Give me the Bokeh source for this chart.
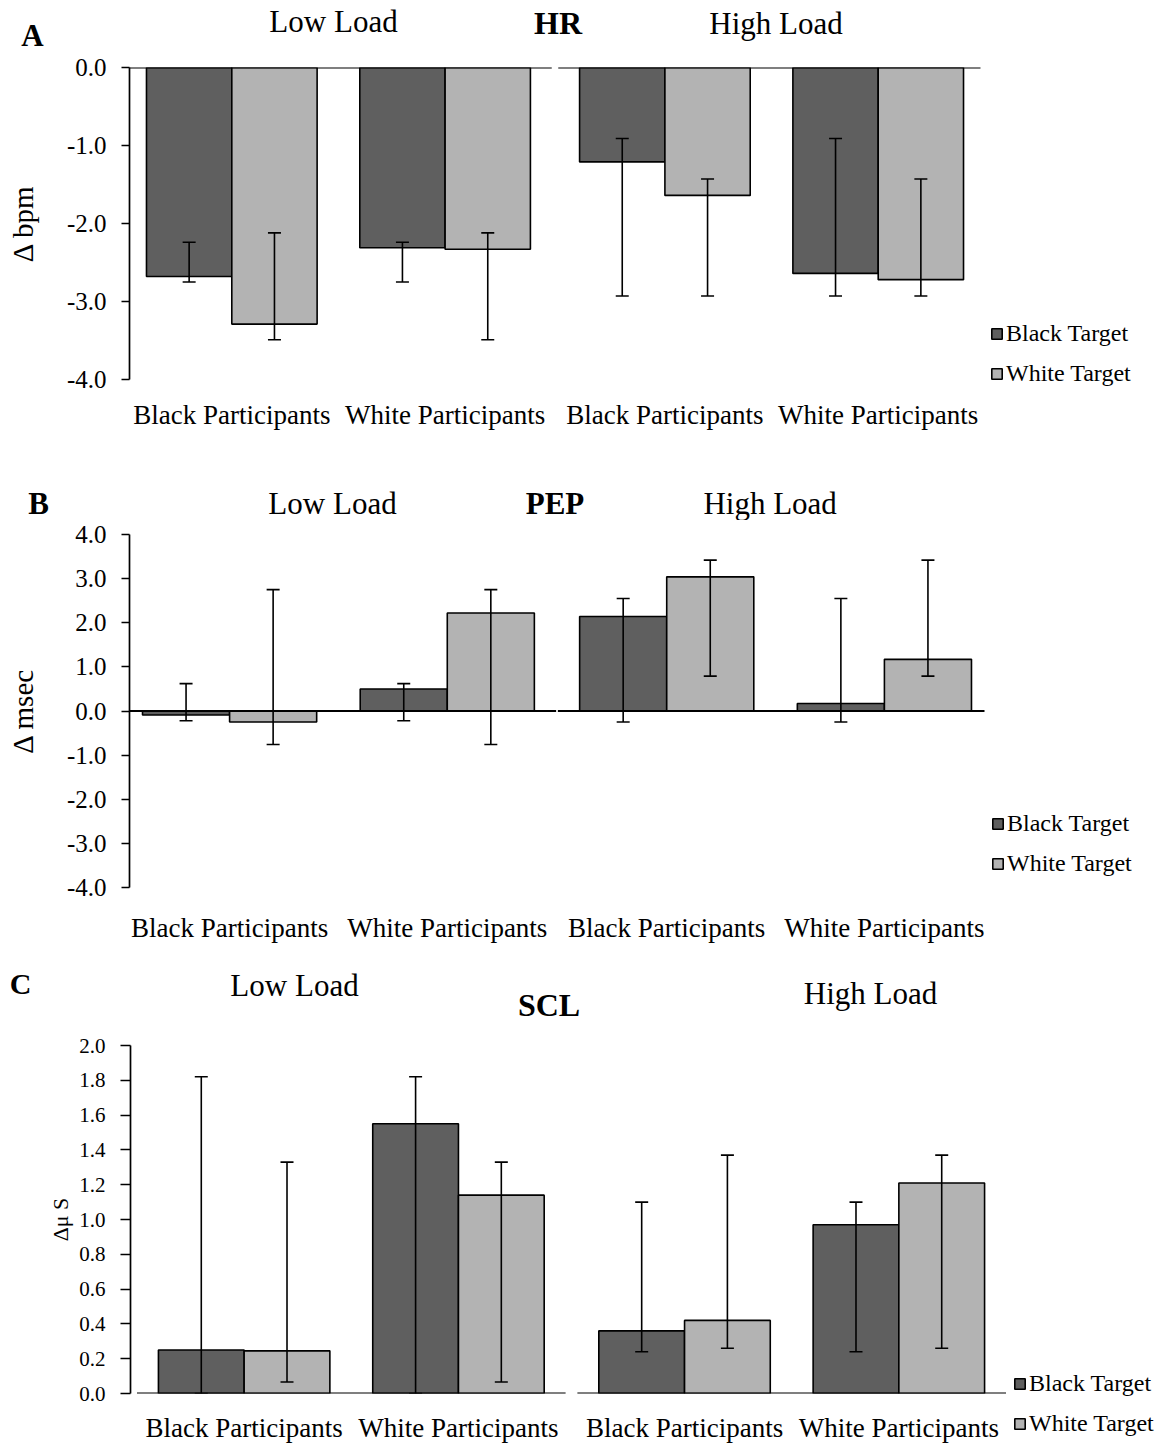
from bokeh.plotting import figure
from bokeh.models import (ColumnDataSource, FactorRange, Range1d, FixedTicker,
                          PrintfTickFormatter, Whisker, TeeHead, Legend, LegendItem, Label)
from bokeh.transform import dodge
from bokeh.layouts import column, row
from bokeh.embed import file_html
from bokeh.resources import INLINE

# ---------------- data ----------------
LOADS = ["Low Load", "High Load"]
PARTICIPANTS = ["Black Participants", "White Participants"]
TARGETS = ["Black Target", "White Target"]
# order of every series: Low-Black P, Low-White P, High-Black P, High-White P

hr_black_target = [-2.68, -2.31, -1.21, -2.64]
hr_white_target = [-3.29, -2.33, -1.64, -2.72]
hr_black_target_hi = [-2.24, -2.24, -0.91, -0.91]
hr_black_target_lo = [-2.75, -2.75, -2.93, -2.93]
hr_white_target_hi = [-2.12, -2.12, -1.43, -1.43]
hr_white_target_lo = [-3.49, -3.49, -2.93, -2.93]
hr_ticks = [-4.0, -3.0, -2.0, -1.0, 0.0]

pep_black_target = [-0.09, 0.50, 2.14, 0.17]
pep_white_target = [-0.25, 2.22, 3.04, 1.17]
pep_black_target_hi = [0.62, 0.62, 2.55, 2.55]
pep_black_target_lo = [-0.22, -0.22, -0.25, -0.25]
pep_white_target_hi = [2.75, 2.75, 3.42, 3.42]
pep_white_target_lo = [-0.76, -0.76, 0.79, 0.79]
pep_ticks = [-4.0, -3.0, -2.0, -1.0, 0.0, 1.0, 2.0, 3.0, 4.0]

scl_black_target = [0.25, 1.55, 0.36, 0.97]
scl_white_target = [0.245, 1.14, 0.42, 1.21]
scl_black_target_hi = [1.82, 1.82, 1.10, 1.10]
scl_black_target_lo = [0.0, 0.0, 0.24, 0.24]
scl_white_target_hi = [1.33, 1.33, 1.37, 1.37]
scl_white_target_lo = [0.066, 0.066, 0.26, 0.26]
scl_ticks = [0.0, 0.2, 0.4, 0.6, 0.8, 1.0, 1.2, 1.4, 1.6, 1.8, 2.0]

# ---------------- style / layout ----------------
FONT = "Liberation Serif"
DARK = "#5f5f5f"
LIGHT = "#b3b3b3"
PAGE_W = 1158

panels = [
    dict(ylabel="\u0394 bpm",
         bt=hr_black_target, wt=hr_white_target,
         bt_hi=hr_black_target_hi, bt_lo=hr_black_target_lo,
         wt_hi=hr_white_target_hi, wt_lo=hr_white_target_lo,
         ticks=hr_ticks, yr=(-4.0, 0.0),
         strip_top=0, strip_h=52, chart_h=403, chart_w=988,
         mb_l=129, mb_r=8, mb_t=15, mb_b=76,
         gpad=0.0305, rpad=-0.0204,
         tick_size="25px", tick_out=8, tick_standoff=15,
         ylabel_size="29px", ylabel_standoff=25, x_standoff=14,
         texts=[("A", 32, 45, 31, "bold"), ("Low Load", 333, 31.3, 31, "normal"),
                ("HR", 557.5, 33, 32, "bold"), ("High Load", 775.5, 33.3, 31, "normal")],
         legend_x=990, legend_bottom=386.5),
    dict(ylabel="\u0394 msec",
         bt=pep_black_target, wt=pep_white_target,
         bt_hi=pep_black_target_hi, bt_lo=pep_black_target_lo,
         wt_hi=pep_white_target_hi, wt_lo=pep_white_target_lo,
         ticks=pep_ticks, yr=(-4.0, 4.0),
         strip_top=455, strip_h=65, chart_h=425, chart_w=990,
         mb_l=129, mb_r=6, mb_t=14, mb_b=55,
         gpad=0.008, rpad=-0.0402,
         tick_size="25px", tick_out=8, tick_standoff=15,
         ylabel_size="29px", ylabel_standoff=25, x_standoff=19,
         texts=[("B", 38, 513.3, 31, "bold"), ("Low Load", 332, 513.3, 31, "normal"),
                ("PEP", 554.5, 513.3, 31, "bold"), ("High Load", 769.6, 513.3, 31, "normal")],
         legend_x=991, legend_bottom=876.5),
    dict(ylabel="\u0394\u03bc S",
         bt=scl_black_target, wt=scl_white_target,
         bt_hi=scl_black_target_hi, bt_lo=scl_black_target_lo,
         wt_hi=scl_white_target_hi, wt_lo=scl_white_target_lo,
         ticks=scl_ticks, yr=(0.0, 2.0),
         strip_top=945, strip_h=80, chart_h=420, chart_w=1012,
         mb_l=130, mb_r=0, mb_t=20, mb_b=47,
         gpad=0.055, rpad=0.0303,
         tick_size="21px", tick_out=10, tick_standoff=15,
         ylabel_size="22px", ylabel_standoff=3, x_standoff=13,
         texts=[("C", 20, 993.3, 30, "bold"), ("Low Load", 294, 995, 31, "normal"),
                ("SCL", 548.5, 1015, 32, "bold"), ("High Load", 870, 1003.3, 31, "normal")],
         legend_x=1013, legend_bottom=1436.5),
]


def plain(fig):
    fig.frame_align = False
    fig.outline_line_color = None
    fig.background_fill_color = "white"
    fig.border_fill_color = "white"
    return fig


def title_strip(c):
    top = c["strip_top"]
    bottom = top + c["strip_h"]
    s = plain(figure(width=PAGE_W, height=c["strip_h"], x_range=Range1d(0, PAGE_W),
                     y_range=Range1d(bottom, top), x_axis_type=None, y_axis_type=None,
                     output_backend="svg", toolbar_location=None, min_border=0, title=None))
    s.grid.visible = False
    for text, px, py, size, style in c["texts"]:
        # vertical centre of the text box sits ~0.337 em above the baseline
        s.add_layout(Label(x=px, y=py - 0.337 * size, text=text, text_align="center",
                           text_baseline="middle", text_font=FONT,
                           text_font_size=f"{size}px", text_font_style=style,
                           text_color="black"))
    return s


def chart_and_legend(c):
    factors = [(l, pp) for l in LOADS for pp in PARTICIPANTS]
    xr = FactorRange(factors=factors, factor_padding=0.0, group_padding=c["gpad"],
                     range_padding=c["rpad"], range_padding_units="absolute")
    p = plain(figure(width=c["chart_w"], height=c["chart_h"], x_range=xr,
                     y_range=Range1d(*c["yr"]), output_backend="svg",
                     toolbar_location=None, title=None,
                     min_border_left=c["mb_l"], min_border_right=c["mb_r"],
                     min_border_top=c["mb_t"], min_border_bottom=c["mb_b"]))
    p.xgrid.visible = False
    p.ygrid.visible = False

    src = ColumnDataSource(dict(x=factors, bt=c["bt"], wt=c["wt"],
                                bt_hi=c["bt_hi"], bt_lo=c["bt_lo"],
                                wt_hi=c["wt_hi"], wt_lo=c["wt_lo"]))
    bar_b = dict(fill_color=DARK, line_color="black", line_width=1.6)
    bar_w = dict(fill_color=LIGHT, line_color="black", line_width=1.6)
    p.vbar(x=dodge("x", -0.2, range=xr), top="bt", bottom=0, width=0.4, source=src, **bar_b)
    p.vbar(x=dodge("x", 0.2, range=xr), top="wt", bottom=0, width=0.4, source=src, **bar_w)

    # zero line of each sub-chart
    zsrc = ColumnDataSource(dict(x0=[factors[0], factors[2]], x1=[factors[1], factors[3]],
                                 y=[0.0, 0.0]))
    p.segment(x0=dodge("x0", -0.5, range=xr), x1=dodge("x1", 0.5, range=xr),
              y0="y", y1="y", source=zsrc, line_color="black", line_width=1.8)

    for off, hi, lo in ((-0.2, "bt_hi", "bt_lo"), (0.2, "wt_hi", "wt_lo")):
        p.add_layout(Whisker(source=src, base=dodge("x", off, range=xr), upper=hi, lower=lo,
                             line_color="black", line_width=1.6, level="overlay",
                             upper_head=TeeHead(size=13, line_color="black", line_width=1.6),
                             lower_head=TeeHead(size=13, line_color="black", line_width=1.6)))

    ya = p.yaxis[0]
    ya.ticker = FixedTicker(ticks=c["ticks"])
    ya.formatter = PrintfTickFormatter(format="%.1f")
    ya.axis_line_color = "black"
    ya.axis_line_width = 1.7
    ya.major_tick_line_color = "black"
    ya.major_tick_line_width = 1.7
    ya.major_tick_in = 0
    ya.major_tick_out = c["tick_out"]
    ya.minor_tick_line_color = None
    ya.major_label_standoff = c["tick_standoff"]
    ya.major_label_text_font = FONT
    ya.major_label_text_font_size = c["tick_size"]
    ya.major_label_text_color = "black"
    ya.axis_label = c["ylabel"]
    ya.axis_label_text_font = FONT
    ya.axis_label_text_font_style = "normal"
    ya.axis_label_text_font_size = c["ylabel_size"]
    ya.axis_label_text_color = "black"
    ya.axis_label_standoff = c["ylabel_standoff"]

    xa = p.xaxis[0]
    xa.axis_line_color = None
    xa.major_tick_line_color = None
    xa.minor_tick_line_color = None
    xa.separator_line_color = None
    xa.group_text_font_size = "0px"
    xa.group_text_alpha = 0
    xa.major_label_orientation = "horizontal"
    xa.major_label_standoff = c["x_standoff"]
    xa.major_label_text_font = FONT
    xa.major_label_text_font_size = "27px"
    xa.major_label_text_color = "black"

    # legend panel: key glyphs share the bar styles and data; they are shifted
    # well outside this small panel's window so only the legend keys are seen
    lw = PAGE_W - c["chart_w"]
    q = plain(figure(width=lw, height=c["chart_h"], x_range=xr, y_range=Range1d(5, 6),
                     x_axis_type=None, y_axis_type=None, output_backend="svg",
                     toolbar_location=None, min_border=0, title=None))
    q.grid.visible = False
    kb = q.vbar(x=dodge("x", 8.0, range=xr), top="bt", bottom=0, width=0.4, source=src, **bar_b)
    kw = q.vbar(x=dodge("x", 8.4, range=xr), top="wt", bottom=0, width=0.4, source=src, **bar_w)
    row_bottom = c["strip_top"] + c["strip_h"] + c["chart_h"]
    lg = Legend(items=[LegendItem(label=TARGETS[0], renderers=[kb]),
                       LegendItem(label=TARGETS[1], renderers=[kw])],
                location=(c["legend_x"] - c["chart_w"], row_bottom - c["legend_bottom"]),
                orientation="vertical", padding=0, margin=0, spacing=13,
                glyph_width=13, glyph_height=13, label_standoff=3,
                label_text_font=FONT, label_text_font_size="24px",
                label_text_color="black",
                border_line_color=None, background_fill_alpha=0)
    q.add_layout(lg)
    return row(p, q, spacing=0)


children = []
for c in panels:
    children.append(title_strip(c))
    children.append(chart_and_legend(c))

layout = column(*children, spacing=0)
open("out.html", "w").write(file_html(layout, INLINE, "HR PEP SCL"))
